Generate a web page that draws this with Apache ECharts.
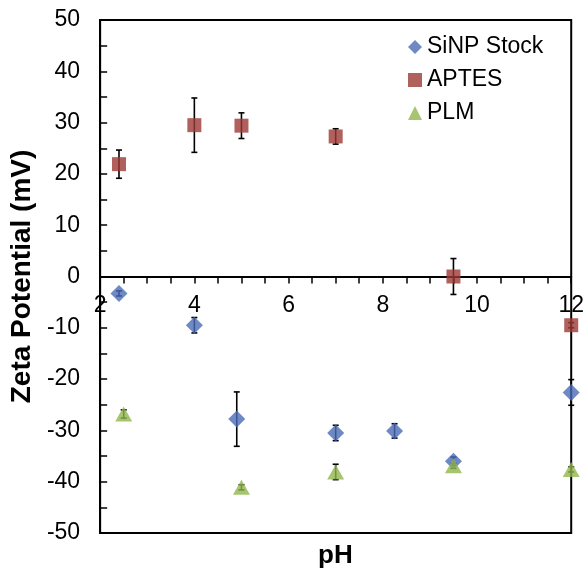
<!DOCTYPE html>
<html>
<head>
<meta charset="utf-8">
<script src="https://cdn.jsdelivr.net/npm/echarts@6/dist/echarts.min.js"></script>
<style>
  html, body { margin: 0; padding: 0; background: #fff; }
  #chart { width: 587px; height: 572px; }
</style>
</head>
<body>
<div id="chart"></div>
<script>
// pH values, zeta potential (mV) and error (+/-) per sample
const sinpPH = [2.4, 4.0, 4.9, 7.0, 8.25, 9.5, 12];
const sinpZeta = [-3.3, -9.5, -27.8, -30.5, -30.1, -36.0, -22.6];
const sinpErr = [0.5, 1.5, 5.3, 1.5, 1.4, 0.8, 2.5];

const aptesPH = [2.4, 4.0, 5.0, 7.0, 9.5, 12];
const aptesZeta = [21.9, 29.5, 29.4, 27.3, 0.0, -9.5];
const aptesErr = [2.75, 5.3, 2.5, 1.5, 3.5, 0.5];

const plmPH = [2.5, 5.0, 7.0, 9.5, 12];
const plmZeta = [-26.8, -41.1, -38.1, -36.9, -37.6];
const plmErr = [0.8, 0.5, 1.5, 0.5, 0.5];

const xTickLabels = [2, 4, 6, 8, 10, 12];
const yTickLabels = [-50, -40, -30, -20, -10, 0, 10, 20, 30, 40, 50];

const FONT = "Liberation Sans, Arial, sans-serif";
const GRID = { left: 98, top: 20, right: 14, bottom: 39 };
const Y_MIN = -50, Y_MAX = 50;

const pts = (xs, ys) => xs.map((x, i) => [x, ys[i]]);
const bars = (xs, ys, es) => xs.map((x, i) => [x, ys[i] - es[i], ys[i] + es[i]]);

const errorSeries = (data) => ({
  type: "custom",
  data: data,
  z: 1,
  silent: true,
  renderItem: (params, api) => {
    const top = api.coord([api.value(0), api.value(2)]);
    const bot = api.coord([api.value(0), api.value(1)]);
    const cap = 3;
    const style = { stroke: "#000", lineWidth: 1.6 };
    return {
      type: "group",
      children: [
        { type: "line", shape: { x1: top[0], y1: top[1], x2: bot[0], y2: bot[1] }, style },
        { type: "line", shape: { x1: top[0] - cap, y1: top[1], x2: top[0] + cap, y2: top[1] }, style },
        { type: "line", shape: { x1: bot[0] - cap, y1: bot[1], x2: bot[0] + cap, y2: bot[1] }, style },
      ],
    };
  },
});

const chart = echarts.init(document.getElementById("chart"));

// x axis sits on y = 0: put it at the top edge and shift it down into the plot
const plotH = 572 - GRID.top - GRID.bottom;
const zeroOffset = -plotH * (Y_MAX - 0) / (Y_MAX - Y_MIN);

chart.setOption({
  animation: false,
  textStyle: { fontFamily: FONT },
  grid: Object.assign({ show: true, borderColor: "#000", borderWidth: 2 }, GRID),
  legend: {
    orient: "vertical",
    left: 403, top: 30,
    itemWidth: 14, itemHeight: 14,
    itemGap: 9,
    textStyle: { fontSize: 23, color: "#000", fontFamily: FONT, lineHeight: 24 },
    data: ["SiNP Stock", "APTES", "PLM"],
  },
  graphic: [
    {
      type: "text",
      left: 318, top: 543,
      style: { text: "pH", font: "bold 26px " + FONT, fill: "#000" },
    },
  ],
  xAxis: {
    type: "value",
    position: "top",
    offset: zeroOffset,
    min: 2, max: 12, interval: 0.5,
    axisLine: { onZero: false, lineStyle: { color: "#000", width: 2 } },
    axisTick: { show: true, inside: true, length: 7, lineStyle: { color: "#000", width: 1.5 } },
    axisLabel: {
      inside: true,
      fontSize: 23, color: "#000", margin: 18, fontFamily: FONT,
      showMinLabel: true, showMaxLabel: true,
      formatter: (v) => (xTickLabels.includes(v) ? String(v) : ""),
    },
    splitLine: { show: false },
  },
  yAxis: {
    type: "value",
    min: Y_MIN, max: Y_MAX, interval: 5,
    axisLine: { show: true, lineStyle: { color: "#000", width: 2 } },
    axisTick: { show: true, inside: true, length: 7, lineStyle: { color: "#000", width: 1.5 } },
    axisLabel: {
      fontSize: 23, color: "#000", margin: 20, fontFamily: FONT,
      formatter: (v) => (yTickLabels.includes(v) ? String(v) : ""),
    },
    splitLine: { show: false },
    name: "Zeta Potential (mV)",
    nameLocation: "middle",
    nameGap: 57,
    nameTextStyle: { fontSize: 28, fontWeight: "bold", color: "#000", fontFamily: FONT },
  },
  series: [
    errorSeries(bars(sinpPH, sinpZeta, sinpErr)),
    errorSeries(bars(aptesPH, aptesZeta, aptesErr)),
    errorSeries(bars(plmPH, plmZeta, plmErr)),
    {
      name: "SiNP Stock", type: "scatter", symbol: "diamond", symbolSize: [17, 17],
      clip: false, z: 3,
      itemStyle: { color: "#4A6CB6" },
      data: pts(sinpPH, sinpZeta),
    },
    {
      name: "APTES", type: "scatter", symbol: "rect", symbolSize: [14, 14],
      clip: false, z: 3,
      itemStyle: { color: "#9C3A35" },
      data: pts(aptesPH, aptesZeta),
    },
    {
      name: "PLM", type: "scatter", symbol: "triangle", symbolSize: [17, 15],
      clip: false, z: 3,
      itemStyle: { color: "#91B74E" },
      data: pts(plmPH, plmZeta),
    },
  ],
});
</script>
</body>
</html>
